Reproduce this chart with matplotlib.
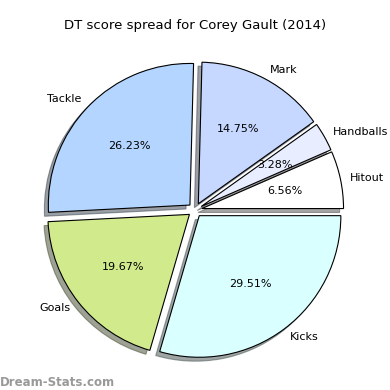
import matplotlib
matplotlib.use("Agg")
import matplotlib.pyplot as plt

labels = ["Hitout", "Handballs", "Mark", "Tackle", "Goals", "Kicks"]
counts = [4, 2, 9, 16, 12, 18]
colors = ["#ffffff", "#e8eeff", "#c6d8ff", "#b3d5ff", "#d1eb8c", "#d9ffff"]
explode = [0.05] * len(counts)

fig = plt.figure(figsize=(3.9, 3.9), dpi=100)
ax = fig.add_axes([18 / 390, 3 / 390, 354 / 390, 354 / 390])
ax.pie(counts, labels=labels, colors=colors, explode=explode, autopct="%1.2f%%",
       startangle=0, shadow=True, labeldistance=1.07, textprops={"fontsize": 8},
       wedgeprops={"edgecolor": "black", "linewidth": 0.8})
ax.set_xlim(-1.25, 1.25)
ax.set_ylim(-1.25, 1.25)
ax.set_aspect("equal")
fig.suptitle("DT score spread for Corey Gault (2014)", y=1 - 25 / 390, va="center", fontsize=9.5)
fig.text(0.0, 8 / 390, "Dream-Stats.com", color="#999999", fontsize=8.5, fontweight="bold", va="center")
fig.savefig("out.png", dpi=100)
